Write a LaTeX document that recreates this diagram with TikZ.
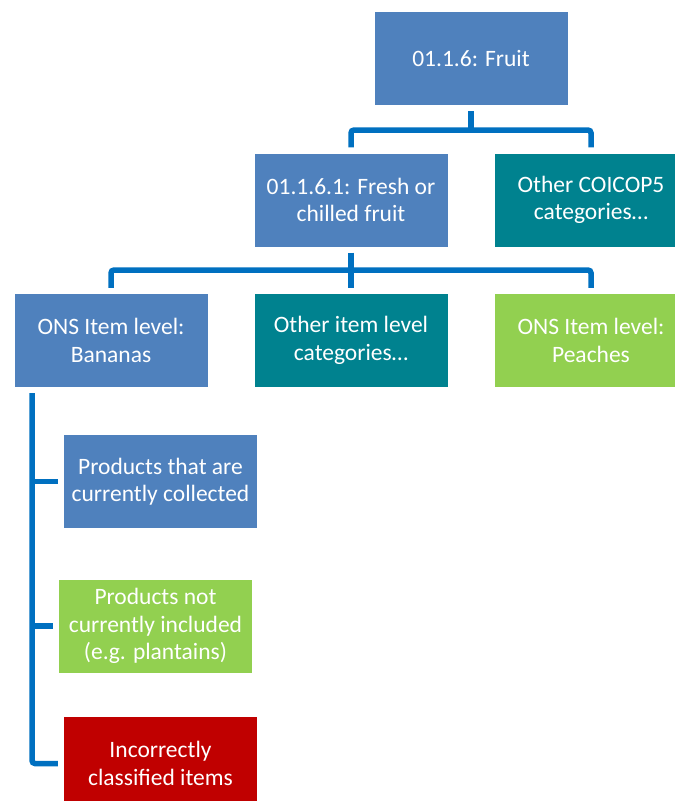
\documentclass[tikz,border=0pt]{standalone}
\usepackage{fontspec}
\setmainfont{Carlito}
\usetikzlibrary{calc}
\definecolor{boxblue}{HTML}{4F81BD}
\definecolor{boxteal}{HTML}{00828F}
\definecolor{boxgreen}{HTML}{92D050}
\definecolor{boxred}{HTML}{C00000}
\definecolor{linkblue}{HTML}{0070C0}
\tikzset{
 catbox/.style={fill=#1, text=white, minimum width=193pt, minimum height=93pt, inner sep=0pt, align=center, font=\fontsize{23.5}{27.5}\selectfont},
 link/.style={linkblue, line width=5.5pt, rounded corners=3pt},
}

\begin{document}
\begin{tikzpicture}[x=1pt,y=-1pt]
\useasboundingbox (0,0) rectangle (675,801);
\clip (0,0) rectangle (675,801);

% COICOP levels
\node[catbox=boxblue] (fruit) at (471,58.5) {01.1.6: Fruit};
\node[catbox=boxblue] (fresh) at (351,200) {01.1.6.1: Fresh or\\chilled fruit};
\node[catbox=boxteal] (other5) at (591,200) {Other COICOP5\\categories…};

% item level
\node[catbox=boxblue] (bananas) at (111,340.5) {ONS Item level:\\Bananas};
\node[catbox=boxteal] (otheritem) at (351,340.5) {Other item level\\categories…};
\node[catbox=boxgreen] (peaches) at (591,340.5) {ONS Item level:\\Peaches};

% products
\node[catbox=boxblue] (collected) at (160.5,481.5) {Products that are\\currently collected};
\node[catbox=boxgreen] (notincl) at (155.5,626) {Products not\\currently included\\(e.g. plantains)};
\node[catbox=boxred] (incorrect) at (160.5,763.5) {Incorrectly\\classified items};

% connectors
\coordinate (bus1) at (471,130);
\coordinate (bus2) at (351,270);
\coordinate (spine) at (32,393);

\draw[link] ([yshift=-6pt]fruit.south) -- (bus1);
\draw[link] ([yshift=6pt]fresh.north) |- (bus1) -| ([yshift=6pt]other5.north);

\draw[link] ([yshift=-6pt]fresh.south) -- ([yshift=6pt]otheritem.north);
\draw[link] ([yshift=6pt]bananas.north) |- (bus2) -| ([yshift=6pt]peaches.north);

\draw[link] (spine) |- ([xshift=-6pt]incorrect.west);
\foreach \n in {collected,notincl}
  \draw[link] (spine |- \n.west) -- ([xshift=-6pt]\n.west);
\end{tikzpicture}
\end{document}
